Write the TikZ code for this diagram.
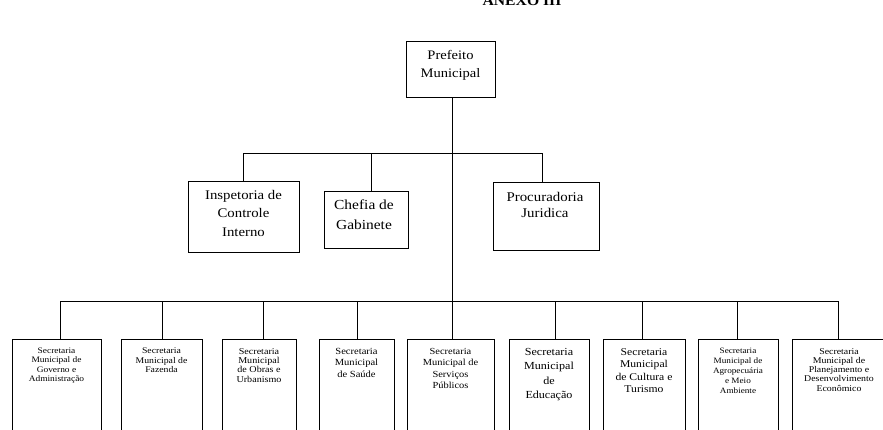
\documentclass[tikz,border=0pt]{standalone}
\usepackage{fontspec}
\setmainfont{Liberation Serif}
\newfontfamily\scanfont[FakeStretch=1.12]{Liberation Serif}
\newcommand\fsz[2]{\scanfont\fontsize{#1}{#2}\selectfont}
\tikzset{
  conn/.style={line width=0.8pt},
  box/.style={draw, line width=0.8pt, inner sep=0pt},
  txt/.style={align=center, inner sep=0pt, anchor=north}
}
% #1 name, #2 centre x, #3 width, #4 drop x, #5 font size, #6 leading, #7 text
\newcommand\secbox[7]{%
 \node[box, minimum width=#3pt, minimum height=111pt] (b#1) at (#2,394.5) {};
 \node[txt, font=\fsz{#5}{#6}] (t#1) at (#2,348) {#7};
 \coordinate (d#1) at (#4,301);
 \draw[conn] (d#1) -- (b#1.north -| d#1);
}
\begin{document}
\begin{tikzpicture}[x=1pt,y=-1pt]
\clip (0,0) rectangle (883,429);
% title (cut at top)
\node[anchor=base, inner sep=0pt, font=\scanfont\bfseries\fontsize{14}{14}\selectfont] (anexo) at (522,5) {ANEXO III};
% top
\node[box, minimum width=89pt, minimum height=56pt] (pm) at (450.5,69) {};
\node[txt, font=\fsz{13}{18}] (pmt) at (450.5,50) {Prefeito\\Municipal};
% middle level
\node[box, minimum width=111pt, minimum height=71pt] (ib) at (243.5,216.5) {};
\node[txt, font=\fsz{13.2}{18.5}] (ibt) at (243.5,190) {Inspetoria de\\Controle\\Interno};
\node[box, minimum width=84pt, minimum height=57pt] (cb) at (366,219.5) {};
\node[txt, font=\fsz{13.8}{20}] (cbt) at (364,199.5) {Chefia de\\Gabinete};
\node[box, minimum width=106pt, minimum height=68pt] (pb) at (546,216) {};
\node[txt, font=\fsz{13.3}{16}] (pbt) at (545,192) {Procuradoria\\Juridica};
\coordinate (mi) at (243,153);
\coordinate (mc) at (371,153);
\coordinate (mp) at (542,153);
\coordinate (mt) at (452,153);
\draw[conn] (mi) -- (mp);
\draw[conn] (mi) -- (ib.north -| mi);
\draw[conn] (mc) -- (cb.north -| mc);
\draw[conn] (mp) -- (pb.north -| mp);
% bottom level
\secbox{1}{56.5}{89}{60}{8.4}{9.2}{Secretaria\\Municipal de\\Governo e\\Administração}
\secbox{2}{161.5}{81}{162}{8.7}{9.2}{Secretaria\\Municipal de\\Fazenda}
\secbox{3}{259}{74}{263}{9}{9.3}{Secretaria\\Municipal\\de Obras e\\Urbanismo}
\secbox{4}{356.5}{75}{357}{9.4}{11.5}{Secretaria\\Municipal\\de Saúde}
\secbox{5}{450.5}{87}{452}{9.3}{11.5}{Secretaria\\Municipal de\\Serviços\\Públicos}
\secbox{6}{549}{80}{555}{10.8}{14.5}{Secretaria\\Municipal\\de\\Educação}
\secbox{7}{644}{82}{642}{10.4}{12.5}{Secretaria\\Municipal\\de Cultura e\\Turismo}
\secbox{8}{738}{80}{737}{8.2}{10}{Secretaria\\Municipal de\\Agropecuária\\e Meio\\Ambiente}
\secbox{9}{839}{94}{838}{8.8}{9.3}{Secretaria\\Municipal de\\Planejamento e\\Desenvolvimento\\Econômico}
\draw[conn] (d1) -- (d9);
\draw[conn] (pm.south -| mt) -- (d5);
\end{tikzpicture}
\end{document}
